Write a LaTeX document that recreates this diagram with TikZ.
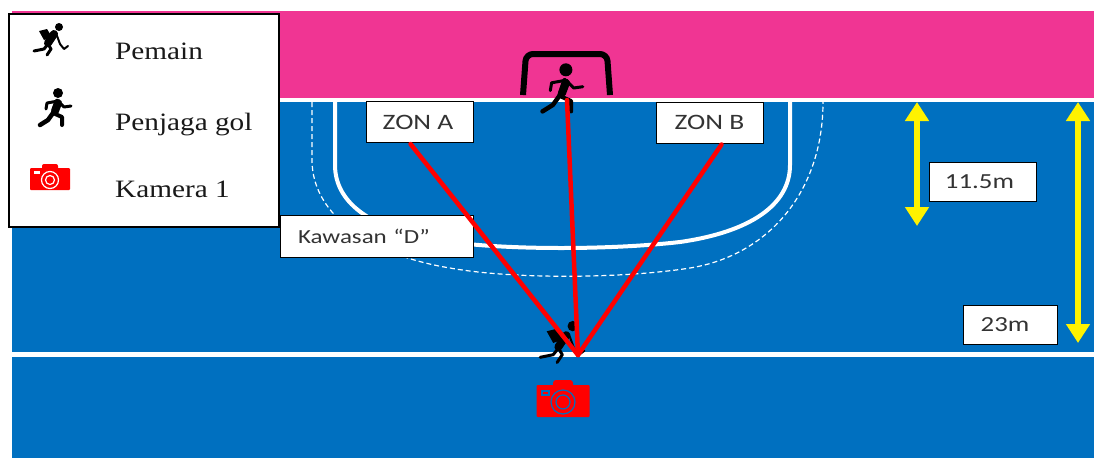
\documentclass[tikz,border=0pt]{standalone}
\usepackage{fontspec}
\usetikzlibrary{arrows.meta,calc}
\setmainfont[FakeStretch=1.17]{Liberation Serif}
\newfontfamily\lab[FakeStretch=1.25]{Carlito}
\definecolor{pitch}{HTML}{0070C0}
\definecolor{pinkz}{HTML}{F03593}
\definecolor{camred}{HTML}{FF0000}
\tikzset{
  x=1pt,y=-1pt,
  labelbox/.style={draw=black,line width=1pt,fill=white,inner sep=0pt,font=\lab\fontsize{21.5}{22}\selectfont,text=black!80},
  legtext/.style={anchor=base west,inner sep=0pt,font=\fontsize{25}{26}\selectfont,text=black!90},
  redline/.style={draw=camred,line width=4.5pt,line cap=round},
  yarrow/.style={draw=yellow,line width=6pt,{Triangle[length=19pt,width=23pt]}-{Triangle[length=19pt,width=23pt]},shorten <=0pt,shorten >=0pt},
  whiteline/.style={draw=white,line width=4pt},
  keeper/.pic={
    \fill (3,-14) circle (5);
    \draw[line width=4.5pt,line cap=round,line join=round] (2,-6) -- (-2,6) -- (-7,13) -- (-15,18);
    \draw[line width=4pt,line cap=round,line join=round] (-2,6) -- (7,10) -- (7,18);
    \draw[line width=3pt,line cap=round,line join=round] (-9,2) -- (-8,-4) -- (3,-6) -- (9,0) -- (16,-1);
    \draw[line width=8pt,line cap=round] (3,-4) -- (0,4);
  },
  playerfig/.pic={
    \fill (9,-13) circle (4);
    \draw[line width=8pt,line cap=round] (4,-6) -- (-2,3);
    \fill (-11,-9) -- (-3,-11) -- (2,-3) -- (-6,0) -- cycle;
    \draw[line width=3pt,line cap=round,line join=round] (-2,4) -- (-6,9) -- (-16,11);
    \draw[line width=3pt,line cap=round,line join=round] (-2,4) -- (1,9) -- (-3,15);
    \draw[line width=2pt,line cap=round,line join=round] (6,-7) -- (10,4) -- (14,9) -- (18,6);
  },
  camerafig/.pic={
    \fill[camred,rounded corners=1pt] (-20,-11) rectangle (20,11);
    \fill[camred,rounded corners=2pt] (-8,-15) rectangle (8,-8);
    \fill[white] (-16,-8) rectangle (-10,-5.5);
    \draw[white,line width=1.2pt] (0,1) circle (8.5);
    \draw[white,line width=1.2pt] (0,1) circle (4.5);
  },
  camerabig/.pic={
    \fill[camred,rounded corners=1pt] (-26.5,-14) rectangle (26.5,18);
    \fill[camred,rounded corners=3pt] (-10,-19) rectangle (10,-10);
    \draw[pitch,line width=1.2pt,fill=camred] (-21,-8) rectangle (-14,-4);
    \draw[pitch,line width=1.2pt] (0,3) circle (12);
    \draw[pitch,line width=1.2pt] (0,3) circle (7);
  },
}
\begin{document}
\begin{tikzpicture}
\useasboundingbox (0,0) rectangle (1094,458);
\fill[white] (0,0) rectangle (1094,458);
\fill[pitch] (12,100) rectangle (1094,458);
\fill[pinkz] (12,11) rectangle (1094,98);
\draw[whiteline] (12,100) -- (1094,100);
\draw[whiteline,line width=5pt] (8,354.5) -- (1094,354.5);
% D zone
\draw[white,line width=4pt] (335,102) -- (335,165) .. controls (335,205) and (375,232) .. (450,242) .. controls (510,250) and (610,250) .. (680,242) .. controls (750,232) and (790,205) .. (790,165) -- (790,102);
\draw[white,line width=1.2pt,dash pattern=on 5pt off 3pt] (312,102) -- (312,160) .. controls (312,215) and (370,255) .. (450,268) .. controls (510,279) and (620,279) .. (690,268) .. controls (770,255) and (823,190) .. (823,102);
% goal
\draw[line width=6pt,line cap=butt,rounded corners=7pt] (523,95) -- (526,54) -- (607,54) -- (610,95);
% figures
\pic at (562,88) [scale=1.3] {keeper};
\pic at (561,343) [scale=1.3] {playerfig};
\coordinate (apex) at (578,355);
\coordinate (goalmouth) at (567,100);
% labels
\node[labelbox,minimum width=107pt,minimum height=41pt,font=\lab\fontsize{22}{23}\selectfont] (zona) at (419.5,122) {ZON A\kern3pt\null};
\node[labelbox,minimum width=107pt,minimum height=41pt,font=\lab\fontsize{22}{23}\selectfont] (zonb) at (709.5,122.5) {ZON B};
\node[labelbox,minimum width=193pt,minimum height=42pt,font=\lab\fontsize{20}{21}\selectfont,text width=175pt,align=left] (kaw) at (376.5,236) {\hspace{9pt}Kawasan “D”};
\node[labelbox,minimum width=107pt,minimum height=39pt] (h11) at (982.5,181.5) {11.5m\kern6pt\null};
\node[labelbox,minimum width=94pt,minimum height=39pt] (h23) at (1010,324.5) {23m\kern10pt\null};
% sight lines
\draw[redline] (apex) -- ($(zona.south)+(-9,1)$);
\draw[redline] (apex) -- (goalmouth);
\draw[redline] (apex) -- ($(zonb.south)+(12,1)$);
\pic at (563,399) {camerabig};
% dimension arrows
\coordinate (a1) at (917,102); \coordinate (a2) at (917,226);
\coordinate (b1) at (1078,102); \coordinate (b2) at (1078,343);
\draw[yarrow] (a1) -- (a2);
\draw[yarrow] (b1) -- (b2);
% legend
\node[draw=black,line width=1.3pt,fill=white,minimum width=270pt,minimum height=213pt,inner sep=0pt] (legend) at (144,120.5) {};
\pic at (50,40) {playerfig};
\pic at (55,107) {keeper};
\pic at (50,179) {camerafig};
\node[legtext] (t1) at (115,59) {Pemain};
\node[legtext] (t2) at (115,130) {Penjaga gol};
\node[legtext] (t3) at (115,197) {Kamera 1};
\end{tikzpicture}
\end{document}
